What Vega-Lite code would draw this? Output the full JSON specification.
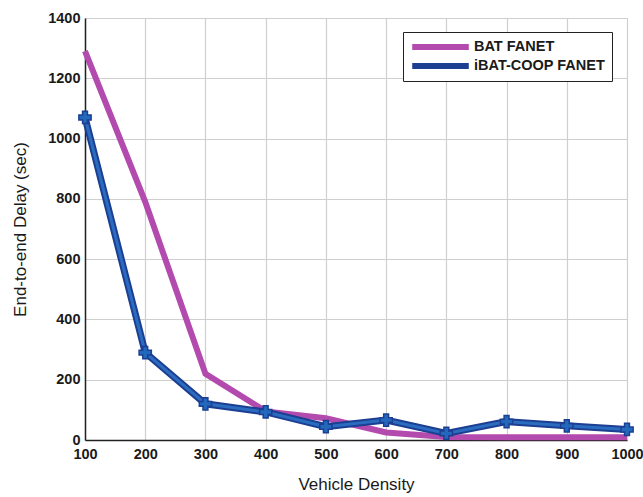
{
  "$schema": "https://vega.github.io/schema/vega-lite/v6.json",
  "autosize": "none",
  "width": 542,
  "height": 422,
  "padding": {"left": 85, "top": 18, "right": 16, "bottom": 57},
  "background": "white",
  "config": {
    "font": "Liberation Sans",
    "view": {"stroke": null},
    "axis": {
      "labelFont": "Liberation Sans",
      "titleFont": "Liberation Sans",
      "labelFontSize": 14.5,
      "labelFontWeight": "bold",
      "titleFontSize": 17,
      "labelColor": "#1a1a1a",
      "titleColor": "#1a1a1a",
      "titleFontWeight": "normal",
      "gridColor": "#cfcfcf",
      "gridWidth": 1.2,
      "gridOpacity": 1,
      "domainColor": "#222",
      "domainWidth": 1.5,
      "ticks": false
    }
  },
  "data": {
    "values": [
      {"density": 100, "delay": 1290, "series": "BAT FANET"},
      {"density": 200, "delay": 790, "series": "BAT FANET"},
      {"density": 300, "delay": 220, "series": "BAT FANET"},
      {"density": 400, "delay": 95, "series": "BAT FANET"},
      {"density": 500, "delay": 72, "series": "BAT FANET"},
      {"density": 600, "delay": 25, "series": "BAT FANET"},
      {"density": 700, "delay": 10, "series": "BAT FANET"},
      {"density": 800, "delay": 9, "series": "BAT FANET"},
      {"density": 900, "delay": 9, "series": "BAT FANET"},
      {"density": 1000, "delay": 9, "series": "BAT FANET"},
      {"density": 100, "delay": 1070, "series": "iBAT-COOP FANET"},
      {"density": 200, "delay": 290, "series": "iBAT-COOP FANET"},
      {"density": 300, "delay": 120, "series": "iBAT-COOP FANET"},
      {"density": 400, "delay": 93, "series": "iBAT-COOP FANET"},
      {"density": 500, "delay": 44, "series": "iBAT-COOP FANET"},
      {"density": 600, "delay": 66, "series": "iBAT-COOP FANET"},
      {"density": 700, "delay": 22, "series": "iBAT-COOP FANET"},
      {"density": 800, "delay": 61, "series": "iBAT-COOP FANET"},
      {"density": 900, "delay": 47, "series": "iBAT-COOP FANET"},
      {"density": 1000, "delay": 35, "series": "iBAT-COOP FANET"}
    ]
  },
  "encoding": {
    "x": {
      "field": "density", "type": "quantitative",
      "scale": {"domain": [100, 1000], "nice": false},
      "axis": {"values": [100,200,300,400,500,600,700,800,900,1000], "format": "d", "title": "Vehicle Density", "labelPadding": 7, "titlePadding": 16, "labelFlush": false}
    },
    "y": {
      "field": "delay", "type": "quantitative",
      "scale": {"domain": [0, 1400], "nice": false},
      "axis": {"values": [0,200,400,600,800,1000,1200,1400], "format": "d", "title": "End-to-end Delay (sec)", "labelPadding": 5, "titlePadding": 18}
    }
  },
  "layer": [
    {
      "transform": [{"filter": "datum.series === 'BAT FANET'"}],
      "mark": {"type": "line", "strokeWidth": 6},
      "encoding": {
        "color": {
          "field": "series", "type": "nominal",
          "scale": {"domain": ["BAT FANET", "iBAT-COOP FANET"], "range": ["#b34bae", "#1d3f92"]},
          "legend": {
            "orient": "none", "legendX": 318, "legendY": 14,
            "title": null,
            "symbolType": "stroke", "symbolStrokeWidth": 6, "symbolSize": 3200,
            "clipHeight": 18,
            "labelFont": "Liberation Sans", "labelFontSize": 14.5, "labelFontWeight": "bold", "labelColor": "#1a1a1a",
            "labelOffset": 2, "rowPadding": 1,
            "padding": 6, "strokeColor": "#222", "fillColor": "white"
          }
        }
      }
    },
    {
      "transform": [{"filter": "datum.series === 'iBAT-COOP FANET'"}],
      "mark": {"type": "line", "strokeWidth": 7},
      "encoding": {"color": {"field": "series", "type": "nominal"}}
    },
    {
      "transform": [{"filter": "datum.series === 'iBAT-COOP FANET'"}],
      "mark": {"type": "line", "strokeWidth": 3, "color": "#2a6cc0"},
      "encoding": {}
    },
    {
      "transform": [{"filter": "datum.series === 'iBAT-COOP FANET'"}],
      "mark": {"type": "point", "shape": "cross", "size": 150, "filled": true, "color": "#2268bd", "stroke": "#1d3f92", "strokeWidth": 1.5, "opacity": 1},
      "encoding": {}
    }
  ]
}
